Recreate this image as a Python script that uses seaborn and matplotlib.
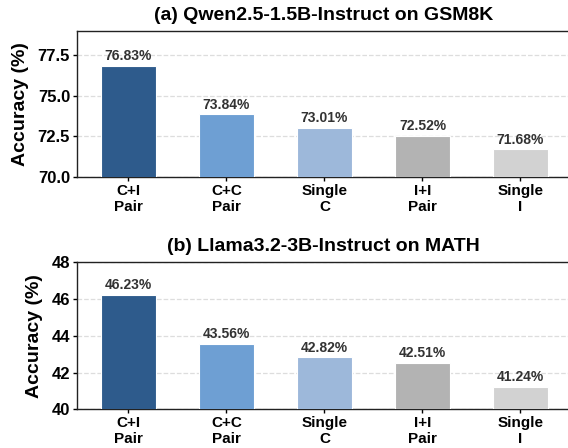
import seaborn as sns
import pandas as pd
import matplotlib.pyplot as plt

categories = ["C+I\nPair", "C+C\nPair", "Single\nC", "I+I\nPair", "Single\nI"]
colors = ["#2E5B8C", "#6E9FD3", "#9DB8DA", "#B3B3B3", "#D2D2D2"]

qwen_acc = [76.83, 73.84, 73.01, 72.52, 71.68]
llama_acc = [46.23, 43.56, 42.82, 42.51, 41.24]

titles = ["(a) Qwen2.5-1.5B-Instruct on GSM8K", "(b) Llama3.2-3B-Instruct on MATH"]
ylims = [(70, 79), (40, 48)]
yticks = [[70.0, 72.5, 75.0, 77.5], [40, 42, 44, 46, 48]]
ytick_fmt = ["{:.1f}", "{:.0f}"]

sns.set_style("white")
plt.rcParams['font.family'] = ['Liberation Sans', 'DejaVu Sans']
plt.rcParams['font.weight'] = 'bold'
plt.rcParams.update({"text.color": "black", "axes.labelcolor": "black",
                     "xtick.color": "black", "ytick.color": "black"})

W, H = 568, 448
fig = plt.figure(figsize=(W / 100, H / 100), dpi=100)

# axes boxes in pixels: left, top, bottom
boxes = [(77, 30.7, 176.7), (77, 262.3, 409.3)]

for i, vals in enumerate([qwen_acc, llama_acc]):
    left, top, bottom = boxes[i]
    ax = fig.add_axes([left / W, (H - bottom) / H, 492.5 / W, (bottom - top) / H])
    df = pd.DataFrame({"cat": categories, "acc": vals})
    sns.barplot(data=df, x="cat", y="acc", hue="cat", palette=colors,
                legend=False, width=0.56, edgecolor="white", linewidth=0.8,
                saturation=1, ax=ax, zorder=3)
    for c in ax.containers:
        ax.bar_label(c, fmt="%.2f%%", padding=2, fontsize=10,
                     fontweight="bold", color="#333333")
    ax.set_xlim(-0.525, 4.5)
    ax.set_ylim(*ylims[i])
    ax.set_yticks(yticks[i])
    ax.set_yticklabels([ytick_fmt[i].format(t) for t in yticks[i]])
    ax.yaxis.grid(True, linestyle="--", color="#dddddd", linewidth=0.9, zorder=0)
    ax.set_axisbelow(True)
    ax.tick_params(axis="y", labelsize=12, length=3, width=1, left=True, pad=2)
    ax.tick_params(axis="x", labelsize=11, length=3, width=1, bottom=True, pad=2)
    for lab in ax.get_xticklabels() + ax.get_yticklabels():
        lab.set_fontweight("bold")
    for s in ax.spines.values():
        s.set_color("#222222")
        s.set_linewidth(1.0)
    ax.set_xlabel("")
    ax.set_ylabel("Accuracy (%)", fontsize=14, fontweight="bold", labelpad=6)
    ax.set_title(titles[i], fontsize=14, fontweight="bold", pad=8)

fig.savefig("out.png", dpi=100)
